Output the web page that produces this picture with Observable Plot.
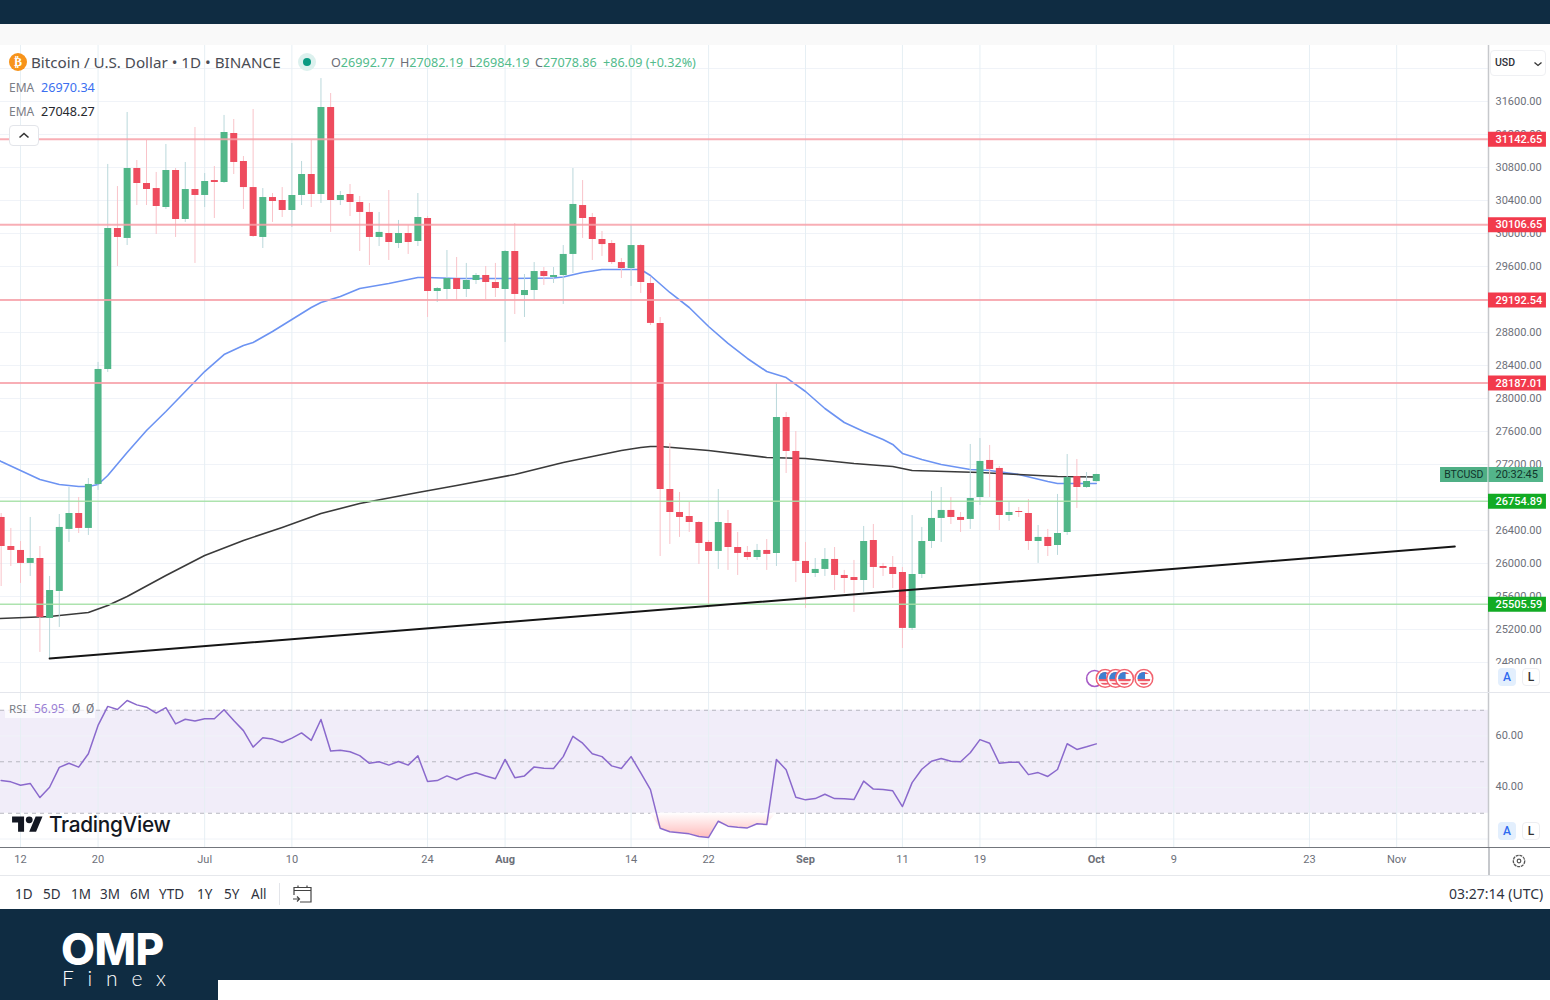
<!DOCTYPE html>
<html>
<head>
<meta charset="utf-8">
<title>Bitcoin / U.S. Dollar 1D BINANCE</title>
<script src="https://cdn.jsdelivr.net/npm/d3@7"></script>
<script src="https://cdn.jsdelivr.net/npm/@observablehq/plot@0.6"></script>
<style>
  html,body{margin:0;padding:0;background:#fff;overflow:hidden}
  #page{position:relative;width:1550px;height:1000px;overflow:hidden;background:#fff;font-family:Roboto,"Noto Sans",sans-serif;color:#333}
  #page svg.plot-pane{position:absolute;left:0;background:transparent;max-width:none}
  .abs{position:absolute;white-space:nowrap}
  .btn{position:absolute;width:18px;height:18px;border-radius:4px;text-align:center;line-height:18px;font-size:12px;font-weight:500;box-sizing:border-box;z-index:6}
  .range{position:absolute;top:885px;font-size:13.5px;color:#2f3340;white-space:nowrap;z-index:5;font-family:"Noto Sans",Roboto,sans-serif}
</style>
</head>
<body>
<div id="page"></div>
<script>
// ---------- candles, one per day from 2023-06-10 to 2023-10-01 ----------
const firstDay = "2023-06-10", lastDay = "2023-10-01";
const open = [26558,26206,26158,26001,26061,25334,25661,26413,26606,26425,26958,28352,30061,29940,30788,30606,30545,30315,30764,30170,30533,30461,30642,30618,31212,30873,30557,29952,30436,30400,30279,30461,30715,30473,31527,30400,30473,30376,30255,29952,30000,29879,30000,29903,30182,29297,29321,29454,29321,29430,29491,29406,29321,29782,29248,29309,29539,29467,29491,29746,30339,30194,29927,29879,29648,29576,29854,29394,28910,26897,26618,26570,26497,26255,26146,26485,26194,26134,26073,26158,26122,27770,27358,26025,25879,25928,26049,25855,25830,25794,26279,25964,25952,25891,25213,25867,26267,26546,26643,26558,26534,26800,27249,27152,26582,26630,26606,26267,26316,26218,26376,27054,26921,26992.77];
const high = [26606,26425,26267,26558,26206,25843,26594,26921,26800,27030,28437,30837,30569,31467,30885,31127,30740,31079,30788,30861,31285,30727,30812,31431,31382,30933,31503,30545,30485,30557,31091,30873,31127,31878,31697,30509,30594,30449,30364,30255,30521,30158,30097,30485,30206,29345,29794,29709,29637,29515,29600,29637,29794,30121,29503,29648,29588,29588,29854,30788,30642,30243,30025,29915,29697,30097,29866,29467,28982,27455,26861,26740,26509,26279,26897,26643,26376,26206,26231,26291,28182,27831,27600,26255,26061,26182,26194,25916,26037,26449,26473,26001,26085,25952,26582,26437,26873,26921,26800,26618,27443,27515,27431,27176,26740,26679,26776,26461,26413,26837,27321,27261,27103,27082.19];
const low = [25721,25964,25758,25843,24922,24849,25225,26255,26364,26340,26885,28316,29600,29854,30339,30339,29988,30291,29952,30134,29637,30315,30182,30606,30715,30291,29952,29818,30134,30194,30073,30339,30315,30364,30013,30339,30206,29782,29612,29842,29673,29818,29746,29842,28982,29164,29200,29188,29224,29382,29200,29224,28679,29018,28982,29188,29370,29394,29140,29515,29940,29673,29722,29624,29454,29358,29273,28885,26085,26231,26316,26376,25988,25455,25928,25916,25855,26037,26037,25916,25964,27091,25770,25455,25830,25843,25673,25636,25407,25649,25697,25843,25697,24970,25188,25818,26182,26255,26473,26376,26413,26703,26800,26400,26509,26558,26158,26001,26085,26098,26340,26667,26909,26984.19];
const close = [26206,26158,26001,26061,25346,25673,26437,26606,26425,26958,28352,30061,29952,30788,30606,30533,30327,30764,30170,30533,30461,30630,30618,31224,30861,30557,29964,30436,30388,30279,30461,30715,30473,31527,30400,30461,30376,30255,29952,30013,29891,30000,29891,30194,29297,29333,29454,29321,29430,29491,29406,29333,29782,29261,29309,29539,29479,29491,29746,30352,30182,29927,29866,29648,29576,29854,29406,28910,26897,26618,26558,26497,26243,26146,26497,26194,26122,26073,26158,26110,27770,27358,26025,25879,25928,26049,25855,25818,25794,26267,25952,25940,25867,25213,25867,26267,26546,26643,26558,26522,26788,27237,27140,26582,26618,26618,26267,26316,26206,26364,27042,26921,26994,27078.86];

// ---------- RSI, one value per day ----------
const rsi = [42.7,42.2,40.9,41.6,36.1,40.1,47.8,49.4,47.9,53.1,64.1,71.5,70.3,73.8,72.1,71.2,68.9,71.0,64.7,66.5,65.8,66.7,66.7,70.2,66.0,62.1,55.7,59.3,58.8,57.5,59.2,61.2,58.3,66.4,54.2,54.5,53.9,52.4,49.4,50.0,48.7,50.1,48.7,52.3,42.3,42.7,44.5,43.0,44.7,45.7,44.5,43.4,50.9,43.8,44.5,48.0,47.5,47.4,52.0,59.9,57.2,53.1,52.0,48.4,47.4,52.0,45.7,39.2,24.2,22.8,22.4,22.0,21.0,20.6,26.9,25.0,24.6,24.3,25.9,25.6,50.9,46.9,36.2,35.2,35.7,37.4,35.7,35.6,35.3,42.5,39.4,39.2,38.7,32.6,41.9,47.1,50.2,51.3,50.2,50.0,53.5,58.6,57.2,49.4,49.8,49.8,45.0,45.8,44.3,47.0,57.0,54.8,55.8,56.95];

// ---------- moving averages ----------
const emaBlueDates = ["2023-06-09","2023-06-10","2023-06-12","2023-06-14","2023-06-16","2023-06-18","2023-06-19","2023-06-20","2023-06-21","2023-06-23","2023-06-25","2023-06-27","2023-06-29","2023-07-01","2023-07-03","2023-07-05","2023-07-06","2023-07-08","2023-07-10","2023-07-12","2023-07-13","2023-07-15","2023-07-17","2023-07-20","2023-07-23","2023-07-24","2023-07-27","2023-08-01","2023-08-06","2023-08-07","2023-08-09","2023-08-11","2023-08-14","2023-08-15","2023-08-16","2023-08-18","2023-08-20","2023-08-22","2023-08-24","2023-08-26","2023-08-28","2023-08-30","2023-09-01","2023-09-03","2023-09-05","2023-09-07","2023-09-09","2023-09-10","2023-09-11","2023-09-13","2023-09-15","2023-09-18","2023-09-20","2023-09-23","2023-09-26","2023-09-27","2023-10-01"];
const emaBlue = [27297,27237,27127,27018,26958,26933,26933,26958,27067,27346,27612,27843,28085,28327,28533,28642,28679,28812,28958,29103,29164,29236,29333,29394,29467,29467,29454,29454,29460,29473,29527,29564,29564,29564,29491,29285,29103,28873,28667,28485,28327,28254,28085,27879,27709,27600,27503,27443,27334,27261,27200,27140,27127,27079,26994,26970,26970.34];
const emaBlackDates = ["2023-06-09","2023-06-15","2023-06-19","2023-06-21","2023-06-23","2023-06-27","2023-07-01","2023-07-05","2023-07-09","2023-07-13","2023-07-17","2023-07-23","2023-07-27","2023-08-02","2023-08-07","2023-08-10","2023-08-13","2023-08-15","2023-08-16","2023-08-17","2023-08-22","2023-08-28","2023-09-01","2023-09-06","2023-09-10","2023-09-12","2023-09-19","2023-09-23","2023-09-27","2023-10-01"];
const emaBlack = [25330,25358,25407,25491,25600,25855,26097,26279,26437,26606,26727,26861,26945,27079,27224,27297,27370,27406,27418,27418,27370,27285,27273,27212,27176,27127,27103,27079,27054,27048.27];

// ---------- drawn levels ----------
const resistanceLevels = [31142.65, 30106.65, 29192.54, 28187.01];
const supportLevels = [26754.89, 25505.59];
const trendDates = ["2023-06-15", "2023-11-07"];
const trendValues = [24849, 26206];
const lastPrice = 27078.86;

// ---------- ticks ----------
const priceTicks = [24800,25200,25600,26000,26400,26800,27200,27600,28000,28400,28800,29200,29600,30000,30400,30800,31200,31600,32000];
const priceLabels = [24800,25200,25600,26000,26400,27200,27600,28000,28400,28800,29600,30000,30400,30800,31200,31600];
const rsiLevels = [30, 50, 70];
const rsiGrid = [20, 40, 60];
const rsiLabels = [40, 60];
const dateTicks = ["2023-06-12","2023-06-20","2023-07-01","2023-07-10","2023-07-24","2023-08-01","2023-08-14","2023-08-22","2023-09-01","2023-09-11","2023-09-19","2023-10-01","2023-10-09","2023-10-23","2023-11-01"];
const dateTickLabels = ["12","20","Jul","10","24","Aug","14","22","Sep","11","19","Oct","9","23","Nov"];
const boldTickLabels = ["Aug","Sep","Oct"];
const economicEvents = ["2023-10-01T22:00Z","2023-10-03T00:00Z","2023-10-03T22:00Z","2023-10-05T22:00Z"];
const purpleEvent = ["2023-09-30T20:00Z"];
const ranges = [["1D",15],["5D",43],["1M",71],["3M",100],["6M",130],["YTD",159],["1Y",197],["5Y",224],["All",251]];

// ---------- colours ----------
const upBody="#50B688", downBody="#EE4C5E", upWick="#BAD8DB", downWick="#F9C3C9";
const gridH="#F0F3F8", gridV="#E6EFF4";
const navy="#0F2C42";

const D = s => new Date(s.length===10 ? s+"T00:00Z" : s);
const dates = d3.utcDay.range(D(firstDay), new Date(+D(lastDay)+864e5));
const bars = dates.map((date,i)=>({date,open:open[i],high:high[i],low:low[i],close:close[i],rsi:rsi[i]}));
const blueRows = emaBlueDates.map((d,i)=>({date:D(d),v:emaBlue[i]}));
const blackRows = emaBlackDates.map((d,i)=>({date:D(d),v:emaBlack[i]}));
const trendRows = trendDates.map((d,i)=>({date:D(d),v:trendValues[i]}));
const tickDates = dateTicks.map(D);
const tickText = new Map(tickDates.map((d,i)=>[+d,dateTickLabels[i]]));

const xDomain = [new Date("2023-06-09T22:24Z"), new Date("2023-11-10T11:24Z")];
const xEnd = xDomain[1];
const after = days => new Date(+xEnd + days*864e5);
const xScale = {type:"utc", domain:xDomain};
const fontStyle = {fontFamily:"Roboto, sans-serif", overflow:"visible"};

const flag = "data:image/svg+xml;utf8," + encodeURIComponent(
 `<svg xmlns="http://www.w3.org/2000/svg" viewBox="0 0 18 18"><circle cx="9" cy="9" r="8" fill="#fff" stroke="#F2636F" stroke-width="1.4"/><clipPath id="c"><circle cx="9" cy="9" r="5.8"/></clipPath><g clip-path="url(#c)"><rect x="2" y="3" width="14" height="12" fill="#fff"/><rect x="2" y="9.5" width="14" height="2" fill="#EF5B68"/><rect x="2" y="13" width="14" height="2" fill="#EF5B68"/><rect x="3" y="3" width="13" height="2" fill="#EF5B68"/><rect x="2" y="3" width="8" height="6.5" fill="#3F7FD0"/></g></svg>`);

// ---------- price pane ----------
const pricePlot = Plot.plot({
  width:1550, height:647, marginTop:0, marginBottom:0, marginLeft:0, marginRight:62,
  x:{...xScale, axis:null},
  y:{domain:[24436.4,32278.8], axis:null},
  style:{...fontStyle},
  marks:[
    Plot.ruleY(priceTicks,{stroke:gridH,strokeWidth:1}),
    Plot.ruleX(tickDates,{stroke:gridV,strokeWidth:1}),
    Plot.line(blueRows,{x:"date",y:"v",stroke:"#6C93F2",strokeWidth:1.6}),
    Plot.line(blackRows,{x:"date",y:"v",stroke:"#3A3A3A",strokeWidth:1.6}),
    Plot.ruleX(bars,{x:"date",y1:"low",y2:"high",strokeWidth:1,stroke:d=>d.close>=d.open?upWick:downWick}),
    Plot.ruleX(bars,{x:"date",y1:"open",y2:"close",strokeWidth:7,stroke:d=>d.close>=d.open?upBody:downBody}),
    Plot.ruleY(resistanceLevels,{stroke:"#F7A0A8",strokeWidth:2,strokeOpacity:.85}),
    Plot.ruleY(supportLevels,{stroke:"#A4E0A5",strokeWidth:1.6,strokeOpacity:.9}),
    Plot.line(trendRows,{x:"date",y:"v",stroke:"#151515",strokeWidth:2}),
    Plot.dot(purpleEvent.map(D),{x:d=>d,y:()=>24607,r:8,fill:"#fff",stroke:"#A75CC6",strokeWidth:1.6}),
    Plot.image(economicEvents.map(D),{x:d=>d,y:()=>24607,src:()=>flag,width:20,height:20}),
    Plot.ruleX([xEnd],{stroke:"#C6C8CC",strokeWidth:1.5}),
    Plot.axisY(priceLabels,{anchor:"right",tickSize:0,tickPadding:7,label:null,fontSize:11,fill:"#6D7079",tickFormat:d=>d.toFixed(2)}),
    Plot.ruleY(resistanceLevels,{x1:()=>xEnd,x2:()=>after(5.98),stroke:"#F23A4C",strokeWidth:15}),
    Plot.ruleY(supportLevels,{x1:()=>xEnd,x2:()=>after(5.98),stroke:"#12AB24",strokeWidth:15}),
    Plot.ruleY([lastPrice],{x1:()=>after(-4.95),x2:()=>after(-.05),stroke:"#4FAF85",strokeWidth:15}),
    Plot.ruleY([lastPrice],{x1:()=>after(.05),x2:()=>after(5.68),stroke:"#53B58A",strokeWidth:15}),
    Plot.text(resistanceLevels.concat(supportLevels),{y:d=>d,frameAnchor:"right",textAnchor:"start",dx:7,text:d=>d.toFixed(2),fill:"#fff",fontSize:11,fontWeight:500}),
    Plot.text([lastPrice],{y:d=>d,frameAnchor:"right",textAnchor:"start",dx:7,text:()=>"20:32:45",fill:"#11352C",fontSize:11}),
    Plot.text([lastPrice],{y:d=>d,frameAnchor:"right",textAnchor:"end",dx:-5,text:()=>"BTCUSD",fill:"#11352C",fontSize:10.5})
  ]
});
pricePlot.classList.add("plot-pane");
pricePlot.style.top="45px";

// ---------- RSI pane + time axis ----------
const rsiPlot = Plot.plot({
  width:1550, height:183, marginTop:0, marginBottom:28, marginLeft:0, marginRight:62,
  x:{...xScale, axis:null},
  y:{domain:[16.7,76.9], axis:null},
  style:{...fontStyle},
  marks:[
    Plot.rect([0],{y1:()=>30,y2:()=>70,fill:"#F1EDF9"}),
    Plot.ruleY(rsiGrid,{stroke:gridH}),
    Plot.ruleX(tickDates,{stroke:gridV}),
    Plot.ruleY(rsiLevels,{stroke:"#B7B7C0",strokeDasharray:"4,4"}),
    Plot.areaY(bars,{x:"date",y1:()=>30,y2:d=>Math.min(d.rsi,30),fill:"url(#rsiRed)"}),
    Plot.line(bars,{x:"date",y:"rsi",stroke:"#8A69CC",strokeWidth:1.5}),
    Plot.ruleX([xEnd],{y1:16.7,y2:76.9,stroke:"#C6C8CC",strokeWidth:1.5}),
    Plot.axisY(rsiLabels,{anchor:"right",tickSize:0,tickPadding:7,dy:-1,label:null,fontSize:11,fill:"#6D7079",tickFormat:d=>d.toFixed(2)}),
    Plot.axisX(tickDates.filter(d=>!boldTickLabels.includes(tickText.get(+d))),{anchor:"bottom",tickSize:0,tickPadding:8,label:null,fontSize:11,fill:"#6D7079",tickFormat:d=>tickText.get(+d)}),
    Plot.axisX(tickDates.filter(d=>boldTickLabels.includes(tickText.get(+d))),{anchor:"bottom",tickSize:0,tickPadding:8,label:null,fontSize:11,fontWeight:700,fill:"#6D7079",tickFormat:d=>tickText.get(+d)})
  ]
});
rsiPlot.classList.add("plot-pane");
rsiPlot.style.top="692px";
const defs = d3.select(rsiPlot).insert("defs",":first-child");
const grad = defs.append("linearGradient").attr("id","rsiRed").attr("x1",0).attr("y1",0).attr("x2",0).attr("y2",1);
grad.append("stop").attr("offset","0%").attr("stop-color","#FFFFFF");
grad.append("stop").attr("offset","100%").attr("stop-color","#FFBDBD");

// ---------- page furniture ----------
const page = document.getElementById("page");
function box(css, html=""){const e=document.createElement("div");e.className="abs";e.style.cssText+=css;e.innerHTML=html;page.appendChild(e);return e;}

box(`left:0;top:24px;width:1550px;height:21px;background:#F9F9F9`);
page.appendChild(pricePlot);
page.appendChild(rsiPlot);
box(`left:0;top:0;width:1550px;height:24px;background:${navy}`);
box(`left:0;top:692px;width:1550px;height:1px;background:#E4E6EC`);
box(`left:0;top:846.5px;width:1550px;height:1.2px;background:#73767C;z-index:3`);
box(`left:1488px;top:847px;width:1.5px;height:28px;background:#C6C8CC`);
box(`left:0;top:875px;width:1550px;height:1px;background:#E6E8EC`);
box(`left:0;top:909px;width:1550px;height:91px;background:${navy}`);
box(`left:218px;top:980px;width:1332px;height:20px;background:#fff`);

// clip of the lowest scale label
box(`left:1490px;top:664px;width:60px;height:27px;background:#fff;z-index:4`);

// legend
box(`left:9px;top:53px;width:18px;height:18px;border-radius:50%;background:#F7931A;color:#fff;font:700 12px/18px "DejaVu Sans";text-align:center`,"₿");
box(`left:31px;top:53px;font:400 15.2px/19px "Noto Sans";color:#4A4C55;z-index:5`,"Bitcoin / U.S. Dollar • 1D • BINANCE");
box(`left:298px;top:53px;width:18px;height:18px;border-radius:50%;background:#DCF1EE`);
box(`left:303px;top:58px;width:8px;height:8px;border-radius:50%;background:#0A9A82`);
const g = s=>`<span style="color:#52BB8C">${s}</span>`;
const ohlc = [["O","26992.77",331],["H","27082.19",400],["L","26984.19",469],["C","27078.86",535]];
for (const [k,v,x] of ohlc) box(`left:${x}px;top:54px;font:400 12.6px/17px "Noto Sans";color:#6B6E78;z-index:5`,`${k}${g(v)}`);
box(`left:603px;top:54px;font:400 12.6px/17px "Noto Sans";z-index:5`,g("+86.09 (+0.32%)"));
box(`left:9px;top:80px;font:400 12px/16px "Noto Sans";color:#7A7D85`,"EMA");
box(`left:41px;top:80px;font:400 12.6px/16px "Noto Sans";color:#3B6FF0`,"26970.34");
box(`left:9px;top:104px;font:400 12px/16px "Noto Sans";color:#7A7D85`,"EMA");
box(`left:41px;top:104px;font:400 12.6px/16px "Noto Sans";color:#26282E`,"27048.27");
box(`left:9px;top:125px;width:28px;height:19px;border:1px solid #E3E5EA;border-radius:4px;background:#fff;z-index:5`,
  `<svg width="28" height="19"><path d="M9.5 11.5 14 7.5 18.500 11.5" fill="none" stroke="#333" stroke-width="1.6"/></svg>`);

// currency selector
box(`left:1490px;top:50px;width:54px;height:24px;border:1px solid #EFF0F3;border-radius:4px;background:#fff;font:500 10.5px/24px Roboto;color:#2E3038;z-index:5`,
  `<span style="margin-left:4px">USD</span><svg width="10" height="10" style="position:absolute;right:2px;top:8px"><path d="M1.500 3.500 5 6.500 8.500 3.500" fill="none" stroke="#333" stroke-width="1.300"/></svg>`);

// A / L buttons
for (const top of [668,822]) {
  const a=box(`left:1498px;top:${top}px;background:#E3EFFD;color:#2F6BF0`,"A"); a.className="btn";
  const l=box(`left:1522px;top:${top}px;border:1px solid #EDEEF1;background:#fff;color:#333;line-height:16px`,"L"); l.className="btn";
}

// RSI legend
box(`left:5px;top:700px;width:90px;height:18px;background:rgba(255,255,255,.72);z-index:3`);
box(`left:9px;top:701px;font:400 11.5px/16px "Noto Sans";color:#7A7D85;z-index:4`,"RSI");
box(`left:34px;top:701px;font:400 12px/16px "Noto Sans";color:#9A80D4;z-index:4`,"56.95");
box(`left:72px;top:701px;font:400 12px/16px Roboto;color:#6E7078;z-index:4`,"Ø");
box(`left:86px;top:701px;font:400 12px/16px Roboto;color:#6E7078;z-index:4`,"Ø");

// TradingView wordmark
box(`left:12px;top:813px;z-index:4`,`<svg width="31" height="24" viewBox="0 0 36 28"><path fill="#131722" d="M14 22H7V11H0V4h14v18zM28 22h-8l7.500-18h8L28 22z"/><circle fill="#131722" cx="20" cy="8" r="4"/></svg>`);
box(`left:49px;top:811px;font:500 20.8px/28px Inter;color:#131722;letter-spacing:-.3px;z-index:4`,"TradingView");

// gear
box(`left:1511px;top:853px;z-index:4`,`<svg width="16" height="16"><circle cx="8" cy="8" r="5.700" fill="none" stroke="#555" stroke-width="1.300" stroke-dasharray="3 .8"/><circle cx="8" cy="8" r="1.800" fill="none" stroke="#555" stroke-width="1.200"/></svg>`);

// range bar
for (const [t,x] of ranges){ const e=document.createElement("div"); e.className="range"; e.style.left=x+"px"; e.textContent=t; page.appendChild(e); }
box(`left:279px;top:883px;width:1px;height:22px;background:#E3E5EA`);
box(`left:291px;top:883px`,`<svg width="22" height="22" fill="none" stroke="#444" stroke-width="1.200"><path d="M3 7.500H20V19H9M3 7.500V12M3 4.500H20V7.500H3ZM7 2.500V5M16 2.500V5M2 16H8M6 13.500 8.500 16 6 18.500"/></svg>`);
box(`left:1449px;top:884px;font:400 14px/19px "Noto Sans";color:#2F3340`,"03:27:14 (UTC)");

// footer logo
box(`left:61px;top:929px;font:800 44px/40px Inter;color:#fff;letter-spacing:-.5px`,"OMP");
box(`left:62px;top:968px;font:300 21px/20px Lato;color:#fff;letter-spacing:13.8px`,"Finex");
</script>
</body>
</html>
